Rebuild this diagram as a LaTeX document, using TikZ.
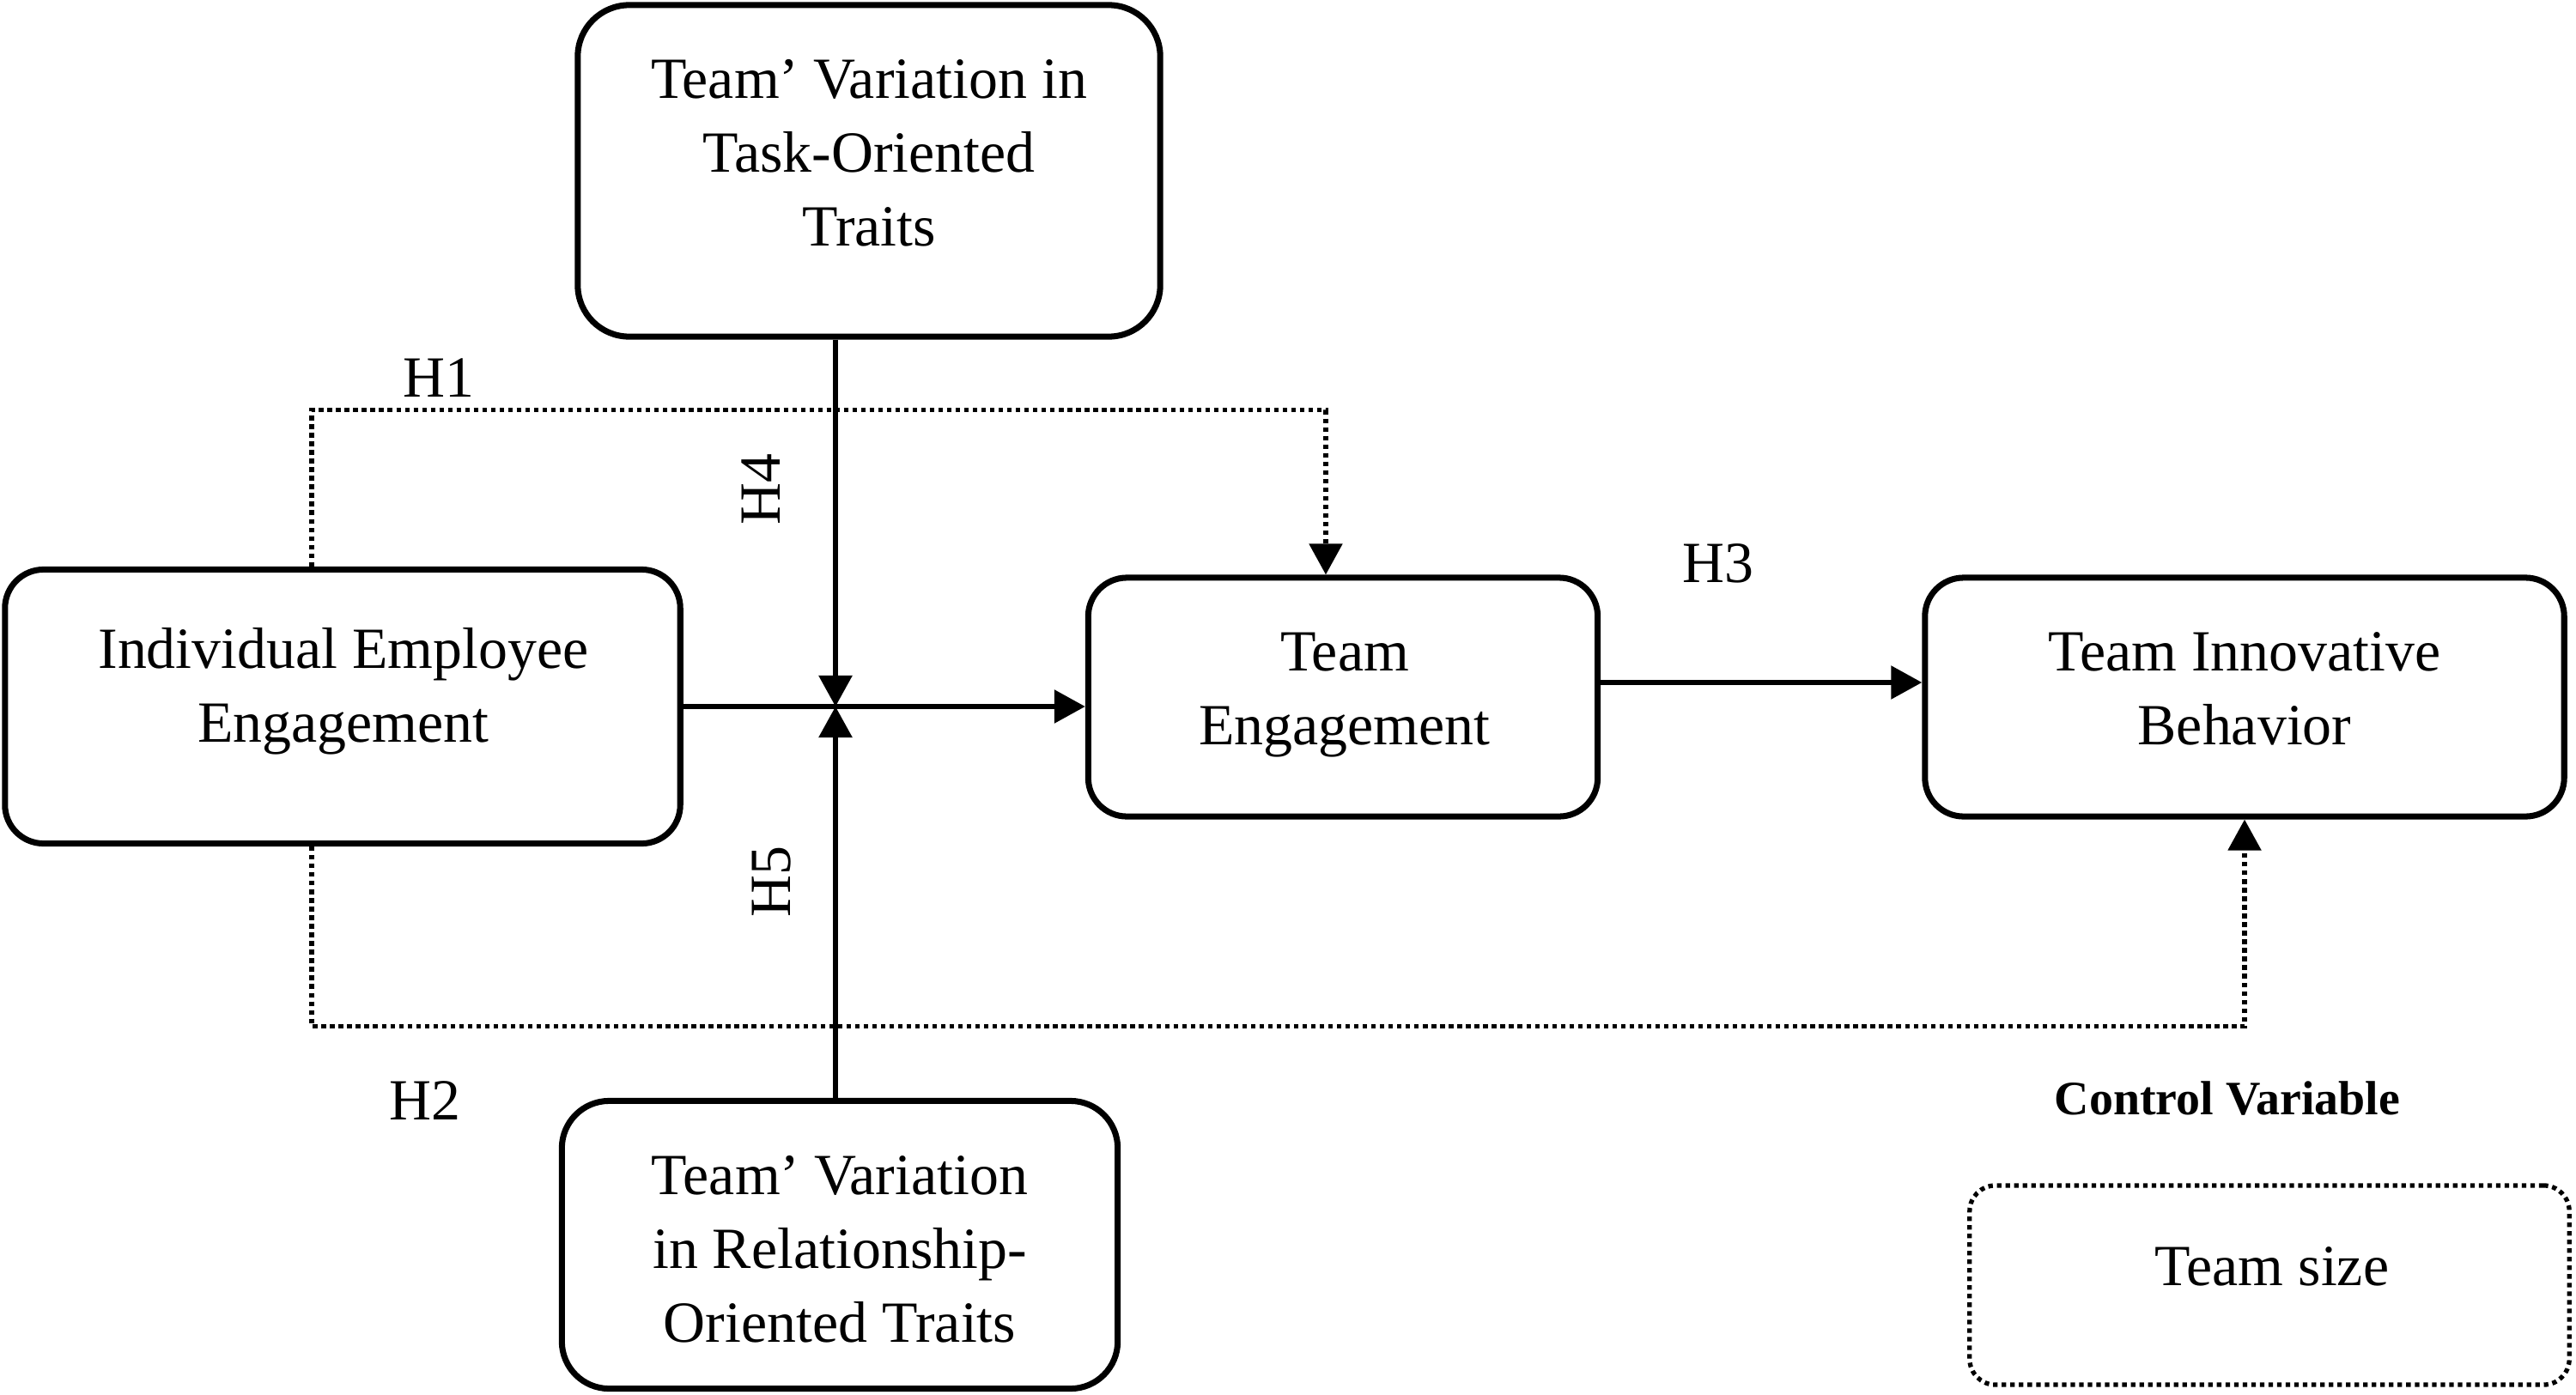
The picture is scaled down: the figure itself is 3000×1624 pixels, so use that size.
\documentclass[tikz,border=0pt]{standalone}
\usepackage{fontspec}
\setmainfont{Liberation Serif}
\usetikzlibrary{arrows.meta}

\tikzset{
  varbox/.style={draw, line width=2pt, rounded corners=0.45cm, inner sep=0pt},
  vartext/.style={align=center, font=\fontsize{19.3}{24.5}\selectfont, inner sep=0pt},
  hlabel/.style={font=\fontsize{19.3}{24.5}\selectfont, inner sep=0pt},
  link/.style={line width=1.6pt, -{Triangle[length=0.36cm, width=0.38cm]}},
  dotlink/.style={link, line width=1.5pt, dash pattern=on 1.5pt off 1.35pt},
}

\begin{document}
\begin{tikzpicture}[x=0.01cm, y=-0.01cm]
\useasboundingbox (0,0) rectangle (3000,1624);
% boxes
\node [varbox, rounded corners=0.6cm, minimum width=6.78cm, minimum height=3.86cm] (task) at (1012,199) {};
\node [vartext] (task-t) at (1012,178) {Team’ Variation in\\Task-Oriented\\Traits};
\node [varbox, minimum width=7.86cm, minimum height=3.19cm] (iee) at (399,823) {};
\node [vartext] (iee-t) at (400,805) {Individual Employee\\Engagement};
\node [varbox, minimum width=5.93cm, minimum height=2.78cm] (te) at (1564,812) {};
\node [vartext] (te-t) at (1566,810) {Team\\Engagement};
\node [varbox, minimum width=7.44cm, minimum height=2.78cm] (tib) at (2614,812) {};
\node [vartext] (tib-t) at (2614,802) {Team Innovative\\Behavior};
\node [varbox, rounded corners=0.55cm, minimum width=6.47cm, minimum height=3.35cm] (rel) at (978,1450) {};
\node [vartext] (rel-t) at (978,1455) {Team’ Variation\\in Relationship-\\Oriented Traits};
\node [varbox, rounded corners=0.3cm, line width=1.5pt, dash pattern=on 1.5pt off 1.35pt, minimum width=6.98cm, minimum height=2.32cm] (size) at (2643,1497) {};
\node [vartext] (size-t) at (2646,1475) {Team size};
\node [inner sep=0pt, font=\fontsize{15.9}{19}\selectfont\bfseries] (ctrl) at (2594,1280) {Control Variable};
% hypothesis labels
\node [hlabel] (h1) at (511,440) {H1};
\node [hlabel] (h2) at (495,1282) {H2};
\node [hlabel] (h3) at (2001,656) {H3};
\node [hlabel, rotate=90] (h4) at (886,570) {H4};
\node [hlabel, rotate=90] (h5) at (899,1027) {H5};
% paths
\coordinate (jn) at (973,823);
\draw [link] (jn |- task.south) -- (jn);
\draw [link] (jn |- rel.north) -- (jn);
\draw [link] (iee.east |- jn) -- (te.west |- jn);
\draw [link] ([yshift=0.17cm]te.east) -- ([yshift=0.17cm]tib.west);
\draw [dotlink] ([xshift=-0.36cm]iee.north) -- ++(0,1.82cm) -| ([xshift=-0.2cm]te.north);
\draw [dotlink] ([xshift=-0.36cm]iee.south) -- ++(0,-2.09cm) -| (tib.south);
\end{tikzpicture}
\end{document}
